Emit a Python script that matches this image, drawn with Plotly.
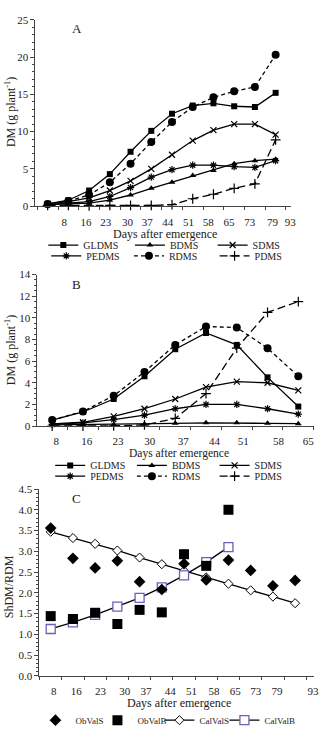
import plotly.graph_objects as go

# ---------------- data ----------------
# Panel A
days_A = ["8", "16", "23", "30", "37", "44", "51", "58", "65", "73", "79", "93"]
A_GLDMS = [0.3, 0.8, 2.1, 4.3, 7.3, 10.1, 12.4, 13.5, 13.8, 13.4, 13.3, 15.2]
A_BDMS = [0.2, 0.3, 0.4, 0.8, 1.5, 2.4, 3.2, 4.1, 4.8, 5.7, 6.1, 6.3]
A_SDMS = [0.3, 0.6, 1.1, 2.1, 3.4, 5.0, 6.9, 8.8, 10.2, 11.0, 11.0, 9.6]
A_PEDMS = [0.2, 0.4, 0.6, 1.3, 2.5, 3.9, 4.9, 5.5, 5.5, 5.3, 5.2, 6.1]
A_RDMS = [0.3, 0.7, 1.5, 3.2, 5.7, 8.6, 11.3, 13.3, 14.6, 15.4, 16.0, 20.3]
A_PDMS = [0.1, 0.1, 0.05, 0.1, 0.1, 0.1, 0.2, 1.0, 1.6, 2.4, 3.0, 8.9]

# Panel B
days_B = ["8", "16", "23", "30", "37", "44", "51", "58", "65"]
B_GLDMS = [0.55, 1.3, 2.5, 4.6, 7.1, 8.6, 7.5, 4.5, 1.8]
B_BDMS = [0.1, 0.12, 0.15, 0.18, 0.25, 0.3, 0.3, 0.25, 0.22]
B_SDMS = [0.2, 0.35, 0.9, 1.6, 2.5, 3.6, 4.1, 4.0, 3.3]
B_PEDMS = [0.15, 0.3, 0.6, 1.0, 1.6, 2.0, 2.0, 1.6, 1.1]
B_RDMS = [0.55, 1.35, 2.8, 5.0, 7.5, 9.2, 9.1, 7.2, 4.6]
B_PDMS = [0.0, 0.0, 0.02, 0.1, 0.7, 3.0, 7.2, 10.5, 11.5]

# Panel C
days_C = ["8", "16", "23", "30", "37", "44", "51", "58", "65", "73", "79", "93"]
C_ObValS = [3.56, 2.83, 2.60, 2.77, 2.27, 2.08, 2.70, 2.31, 2.79, 2.54, 2.17, 2.30]
C_ObValB = [1.44, 1.37, 1.52, 1.25, 1.59, 1.53, 2.93, 2.65, 4.00]
C_CalValS = [3.47, 3.32, 3.18, 3.02, 2.85, 2.69, 2.53, 2.37, 2.22, 2.06, 1.91, 1.75]
C_CalValB = [1.13, 1.29, 1.47, 1.67, 1.88, 2.13, 2.42, 2.74, 3.10]

# tick label positions (category index units)
A_tickpos = [0.8, 1.85, 2.8, 3.85, 4.8, 5.8, 6.8, 7.75, 8.75, 9.75, 10.85, 11.7]
B_tickpos = [0.13, 1.12, 2.14, 3.17, 4.26, 5.28, 6.21, 7.36, 8.32]
C_tickpos = [0.14, 1.15, 2.24, 3.33, 4.29, 5.38, 6.34, 7.35, 8.31, 9.23, 10.19, 11.8]

W, H = 319, 737
FONT = "Liberation Serif"
TXT = "#222222"


def px(x):
    return x / W


def py(y):
    return 1 - y / H


fig = go.Figure()

legend_specs = {}  # name -> (text_x, text_y, fontsize)
leg_counter = [1]


def add(xaxis, yaxis, ys, name, mode, symbol, msize, dash, text_pos,
        mcolor="black", mline=None, mlw=0, lfs=10):
    leg_counter[0] += 1
    lname = f"legend{leg_counter[0]}"
    legend_specs[lname] = (text_pos[0], text_pos[1], lfs)
    marker = dict(symbol=symbol, size=msize, color=mcolor,
                  line=dict(color=mline if mline else "black", width=mlw))
    fig.add_trace(go.Scatter(
        x=list(range(len(ys))), y=ys, name=name, mode=mode,
        xaxis=xaxis, yaxis=yaxis, legend=lname, showlegend=True,
        line=dict(color="black", width=1.3, dash=dash),
        marker=marker, cliponaxis=False))


# Panel A (x, y)
add("x", "y", A_GLDMS, "GLDMS", "lines+markers", "square", 6, "solid", (85, 243))
add("x", "y", A_BDMS, "BDMS", "lines+markers", "triangle-up", 6, "solid", (173, 243))
add("x", "y", A_SDMS, "SDMS", "lines+markers", "x-thin-open", 6, "solid", (257, 243), mlw=1.2)
add("x", "y", A_PEDMS, "PEDMS", "lines+markers", "asterisk-open", 6, "solid", (88, 254), mlw=1.2)
add("x", "y", A_RDMS, "RDMS", "lines+markers", "circle", 8, "4px,3px", (172, 254))
add("x", "y", A_PDMS, "PDMS", "lines+markers", "cross-thin-open", 7, "8px,4px", (259, 254), mlw=1.2)

# Panel B (x2, y2)
add("x2", "y2", B_GLDMS, "GLDMS", "lines+markers", "square", 6, "solid", (92, 467))
add("x2", "y2", B_BDMS, "BDMS", "lines+markers", "triangle-up", 6, "solid", (175, 467))
add("x2", "y2", B_SDMS, "SDMS", "lines+markers", "x-thin-open", 6, "solid", (259, 467), mlw=1.2)
add("x2", "y2", B_PEDMS, "PEDMS", "lines+markers", "asterisk-open", 6, "solid", (92, 478), mlw=1.2)
add("x2", "y2", B_RDMS, "RDMS", "lines+markers", "circle", 8, "4px,3px", (175, 478))
add("x2", "y2", B_PDMS, "PDMS", "lines+markers", "cross-thin-open", 7, "8px,4px", (259, 478), mlw=1.2)

# Panel C (x3, y3)
add("x3", "y3", C_CalValS, "CalValS", "lines+markers", "diamond", 7, "solid", (203, 726),
    mcolor="white", mline="black", mlw=1, lfs=9)
add("x3", "y3", C_CalValB, "CalValB", "lines+markers", "square", 9, "solid", (269, 726),
    mcolor="white", mline="#6a62b8", mlw=1.3, lfs=9)
add("x3", "y3", C_ObValS, "ObValS", "markers", "diamond", 9, "solid", (77, 726), lfs=9)
add("x3", "y3", C_ObValB, "ObValB", "markers", "square", 10, "solid", (140, 726), lfs=9)

# legends
for lname, (tx, ty, fs) in legend_specs.items():
    fig.update_layout({lname: dict(
        x=px(tx - 41), y=py(ty), xanchor="left", yanchor="middle",
        orientation="h", itemwidth=30, bgcolor="rgba(0,0,0,0)",
        font=dict(family=FONT, size=fs, color=TXT),
        tracegroupgap=0, borderwidth=0, visible=True)})

axis_common = dict(showline=True, linecolor="#444444", linewidth=1, showgrid=False,
                   zeroline=False, tickfont=dict(family=FONT, size=11, color=TXT),
                   ticklabeloverflow="allow")

# x axes
fig.update_layout(
    xaxis=dict(domain=[px(36), px(295.8)], range=[-0.59, 11.75], anchor="y",
               tickmode="array", tickvals=A_tickpos, ticktext=days_A, ticks="",
               ticklabelstandoff=6,
               minor=dict(tickmode="array", tickvals=[i - 0.5 for i in range(13)],
                          ticks="outside", ticklen=3, tickcolor="#444444"),
               **axis_common),
    yaxis=dict(domain=[py(203.5), py(14)], range=[0, 25], anchor="x",
               tickmode="linear", tick0=0, dtick=5, ticks="outside", ticklen=4,
               tickcolor="#444444",
               minor=dict(dtick=1, ticks="outside", ticklen=2, tickcolor="#444444"),
               **axis_common),
    xaxis2=dict(domain=[px(38), 1.0], range=[-0.48, 8.51], anchor="y2",
                tickmode="array", tickvals=B_tickpos, ticktext=days_B, ticks="",
                ticklabelstandoff=5,
                minor=dict(tickmode="array", tickvals=[i - 0.5 for i in range(10)],
                           ticks="outside", ticklen=3, tickcolor="#444444"),
                **axis_common),
    yaxis2=dict(domain=[py(427), py(273)], range=[0, 14], anchor="x2",
                tickmode="linear", tick0=0, dtick=2, ticks="outside", ticklen=4,
                tickcolor="#444444",
                minor=dict(dtick=0.5, ticks="outside", ticklen=2, tickcolor="#444444"),
                **axis_common),
    xaxis3=dict(domain=[px(40), 1.0], range=[-0.51, 11.85], anchor="y3",
                tickmode="array", tickvals=C_tickpos, ticktext=days_C, ticks="",
                ticklabelstandoff=5,
                minor=dict(tickmode="array", tickvals=[i - 0.5 for i in range(13)],
                           ticks="outside", ticklen=3, tickcolor="#444444"),
                **axis_common),
    yaxis3=dict(domain=[py(681), py(491)], range=[0, 4.5], anchor="x3",
                tickmode="linear", tick0=0, dtick=0.5, tickformat=".1f",
                ticks="outside", ticklen=4, tickcolor="#444444",
                minor=dict(dtick=0.1, ticks="outside", ticklen=2, tickcolor="#444444"),
                **axis_common),
)

annots = [
    ("A", 78, 23, 0, 13),
    ("B", 78, 283, 0, 13),
    ("C", 78, 501, 0, 13),
    ("DM (g plant<sup>-1</sup>)", 10, 108, -90, 12),
    ("DM (g plant<sup>-1</sup>)", 10, 350, -90, 12),
    ("ShDM/RDM", 10, 590, -90, 12),
    ("Days after emergence", 168, 232, 0, 12),
    ("Days after emergence", 182, 455, 0, 11.5),
    ("Days after emergence", 182, 709, 0, 12),
]
for t, x, y, ang, s in annots:
    fig.add_annotation(text=t, x=px(x), y=py(y), xref="paper", yref="paper",
                       xanchor="center", yanchor="middle", showarrow=False,
                       textangle=ang, font=dict(family=FONT, size=s, color=TXT))

fig.update_layout(width=W, height=H, margin=dict(l=0, r=0, t=0, b=0),
                  paper_bgcolor="white", plot_bgcolor="white", showlegend=True,
                  font=dict(family=FONT, color=TXT))

fig.write_html("out.html")
